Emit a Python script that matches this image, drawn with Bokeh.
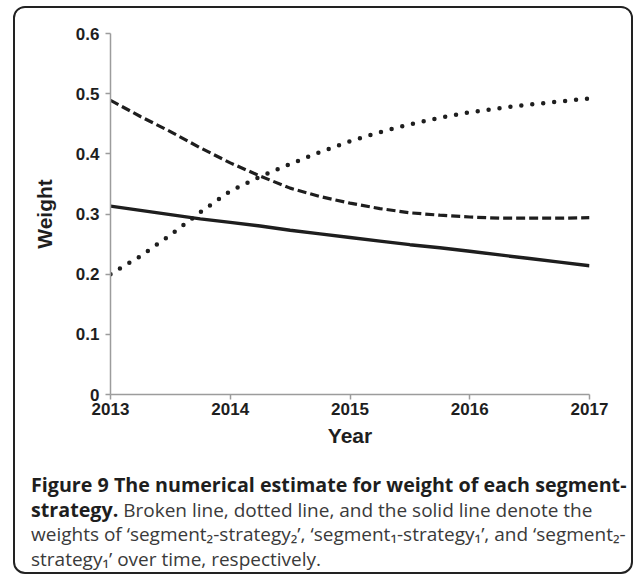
from bokeh.plotting import figure
from bokeh.layouts import column
from bokeh.models import FixedTicker, Range1d, Div
from bokeh.embed import file_html
from bokeh.resources import INLINE

# ---- data ----
years = [2013.0, 2013.25, 2013.5, 2013.75, 2014.0, 2014.25, 2014.5, 2014.75, 2015.0,
         2015.25, 2015.5, 2015.75, 2016.0, 2016.25, 2016.5, 2016.75, 2017.0]
seg2_str2 = [0.489, 0.462, 0.437, 0.410, 0.385, 0.363, 0.343, 0.329, 0.318,
             0.309, 0.302, 0.298, 0.295, 0.293, 0.293, 0.293, 0.294]
seg1_str1 = [0.200, 0.230, 0.265, 0.303, 0.338, 0.362, 0.383, 0.403, 0.421,
             0.436, 0.449, 0.460, 0.469, 0.476, 0.482, 0.487, 0.492]
seg2_str1 = [0.313, 0.306, 0.299, 0.292, 0.286, 0.280, 0.273, 0.267, 0.261,
             0.255, 0.249, 0.244, 0.238, 0.232, 0.226, 0.220, 0.214]
x_ticks = [2013, 2014, 2015, 2016, 2017]
y_ticks = [0, 0.1, 0.2, 0.3, 0.4, 0.5, 0.6]
y_tick_labels = ["0", "0.1", "0.2", "0.3", "0.4", "0.5", "0.6"]

caption_bold_1 = "Figure 9 The numerical estimate for weight of each segment-"
caption_bold_2 = "strategy."
caption_2 = "Broken line, dotted line, and the solid line denote the"
caption_3 = ("weights of \u2018segment\u2082-strategy\u2082\u2019, "
             "\u2018segment\u2081-strategy\u2081\u2019, and \u2018segment\u2082-")
caption_4 = "strategy\u2081\u2019 over time, respectively."

W = 616
H1, H2 = 445, 119
p = figure(width=W, height=H1, output_backend="svg", toolbar_location=None,
           x_range=Range1d(2013, 2017), y_range=Range1d(0, 0.6),
           min_border_left=95, min_border_right=W - 574,
           min_border_top=25, min_border_bottom=H1 - 386)
p.grid.visible = False
p.outline_line_color = None

INK = "#1e1e1e"
AX = "#9c9c9c"
for ax in (p.xaxis[0], p.yaxis[0]):
    ax.axis_line_color = AX
    ax.axis_line_width = 1.5
    ax.major_tick_line_color = AX
    ax.major_tick_line_width = 1.5
    ax.major_tick_out = 5
    ax.major_tick_in = 0
    ax.minor_tick_line_color = None
    ax.major_label_text_font = "Liberation Sans"
    ax.major_label_text_font_style = "bold"
    ax.major_label_text_font_size = "17px"
    ax.major_label_text_color = INK
    ax.axis_label_text_font = "Liberation Sans"
    ax.axis_label_text_font_style = "bold"
    ax.axis_label_text_font_size = "21px"
    ax.axis_label_text_color = INK

p.xaxis.ticker = FixedTicker(ticks=x_ticks)
p.yaxis.ticker = FixedTicker(ticks=y_ticks)
p.yaxis.major_label_overrides = {t: s for t, s in zip(y_ticks, y_tick_labels)}
p.xaxis.major_label_standoff = 3
p.yaxis.major_label_standoff = 6
p.xaxis.axis_label = "Year"
p.yaxis.axis_label = "Weight"
p.xaxis.axis_label_standoff = 6
p.yaxis.axis_label_standoff = 17

p.line(years, seg2_str2, line_color=INK, line_width=3.2, line_dash="9 4")
p.line(years, seg1_str1, line_color=INK, line_width=4.5, line_dash="0 11",
       line_cap="round")
p.line(years, seg2_str1, line_color=INK, line_width=3.4)

html = (
    '<div style="font-family:\'Open Sans\',sans-serif;font-size:19px;'
    'line-height:24.5px;color:#3a3a3a;padding:15px 0 0 11px;margin:0;'
    'white-space:nowrap;">'
    '<span style="color:#1e1e1e;font-weight:700;font-size:19.7px">'
    f'{caption_bold_1}<br>{caption_bold_2}</span> '
    f'{caption_2}<br>{caption_3}<br>{caption_4}</div>'
)
cap = Div(text=html, width=W, height=H2, sizing_mode="fixed",
          styles={"overflow": "hidden", "height": f"{H2}px",
                  "max-height": f"{H2}px"})

layout = column(p, cap, spacing=0, width=W, height=H1 + H2, sizing_mode="fixed",
                styles={"border": "2px solid #222222", "border-radius": "12px",
                        "margin-left": "13px", "margin-top": "6px",
                        "overflow": "hidden", "box-sizing": "content-box",
                        "height": f"{H1 + H2}px", "max-height": f"{H1 + H2}px"})

open("out.html", "w").write(file_html(layout, INLINE))
